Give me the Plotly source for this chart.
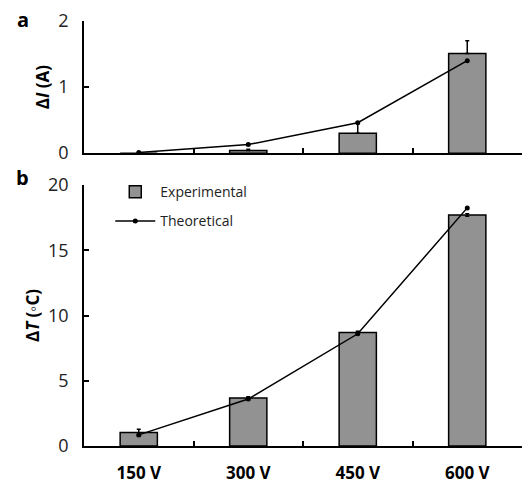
import plotly.graph_objects as go
from plotly.subplots import make_subplots

categories = ["150 V", "300 V", "450 V", "600 V"]
current_exp = [0.0, 0.04, 0.30, 1.51]
current_exp_err = [0.0, 0.02, 0.17, 0.19]
current_theory = [0.01, 0.13, 0.46, 1.40]
temp_exp = [1.03, 3.67, 8.69, 17.7]
temp_exp_err = [0.25, 0.1, 0.1, 0.1]
temp_theory = [0.85, 3.6, 8.6, 18.25]

FONT = "Open Sans"
BAR_COLOR = "#929292"

fig = make_subplots(rows=2, cols=1, shared_xaxes=False, vertical_spacing=0.0)

fig.add_trace(go.Bar(x=categories, y=current_exp, width=0.34,
                     marker=dict(color=BAR_COLOR, line=dict(color="black", width=1.5)),
                     error_y=dict(type="data", array=current_exp_err, arrayminus=[0, 0, 0, 0],
                                  color="black", thickness=1.5, width=2),
                     showlegend=False), row=1, col=1)
fig.add_trace(go.Scatter(x=categories, y=current_theory, mode="lines+markers",
                         line=dict(color="black", width=1.5), marker=dict(color="black", size=5),
                         showlegend=False), row=1, col=1)
fig.add_trace(go.Bar(x=categories, y=temp_exp, width=0.34, name="Experimental", legendgroup="exp",
                     marker=dict(color=BAR_COLOR, line=dict(color="black", width=1.5)),
                     error_y=dict(type="data", array=temp_exp_err, color="black", thickness=1.5, width=2)),
              row=2, col=1)
fig.add_trace(go.Scatter(x=categories, y=temp_theory, mode="lines+markers", name="Theoretical",
                         legendgroup="theo",
                         line=dict(color="black", width=1.5), marker=dict(color="black", size=5)),
              row=2, col=1)

axis_common = dict(showline=True, linecolor="black", linewidth=1.5, showgrid=False, zeroline=False,
                   ticks="inside", ticklen=5, tickcolor="black", tickwidth=1.5, automargin=False)

fig.update_xaxes(**axis_common, type="category", tickson="boundaries", range=[-0.5, 3.5])
fig.update_xaxes(showticklabels=False, row=1, col=1)
fig.update_xaxes(tickfont=dict(family=FONT, size=17, color="black", weight="bold"),
                 ticklabelstandoff=11, row=2, col=1)

fig.update_yaxes(**axis_common)
fig.update_yaxes(range=[0, 2], tickvals=[0, 1, 2], domain=[0.689, 1.0],
                 tickfont=dict(family=FONT, size=18, color="#222"), ticklabelstandoff=10,
                 title=dict(text="Δ<i>I</i> (A)", font=dict(family=FONT, size=17, color="black", weight="bold"),
                            standoff=4), row=1, col=1)
fig.update_yaxes(range=[0, 20], tickvals=[0, 5, 10, 15, 20], domain=[0.0, 0.614],
                 tickfont=dict(family=FONT, size=18, color="#222"), ticklabelstandoff=10,
                 title=dict(text="Δ<i>T</i> (◦C)", font=dict(family=FONT, size=17, color="black", weight="bold"),
                            standoff=4), row=2, col=1)

fig.add_annotation(text="a", xref="paper", yref="paper", x=-0.14, y=1.0, xanchor="center", yanchor="bottom",
                   yshift=-14, showarrow=False, font=dict(family=FONT, size=20, color="black", weight="bold"))
fig.add_annotation(text="b", xref="paper", yref="paper", x=-0.14, y=0.614, xanchor="center", yanchor="bottom",
                   yshift=-8, showarrow=False, font=dict(family=FONT, size=20, color="black", weight="bold"))

fig.update_layout(
    width=522, height=482,
    margin=dict(l=84, r=0, t=21, b=36),
    paper_bgcolor="white", plot_bgcolor="white",
    bargap=0.66,
    legend=dict(x=0.06, y=0.635, xanchor="left", yanchor="top", bgcolor="rgba(0,0,0,0)",
                traceorder="grouped",
                font=dict(family=FONT, size=14, color="#222"), itemwidth=40, tracegroupgap=8),
    font=dict(family=FONT),
)

fig.write_html("out.html", config={"displayModeBar": False},
               post_script="document.body.style.margin='0';")
